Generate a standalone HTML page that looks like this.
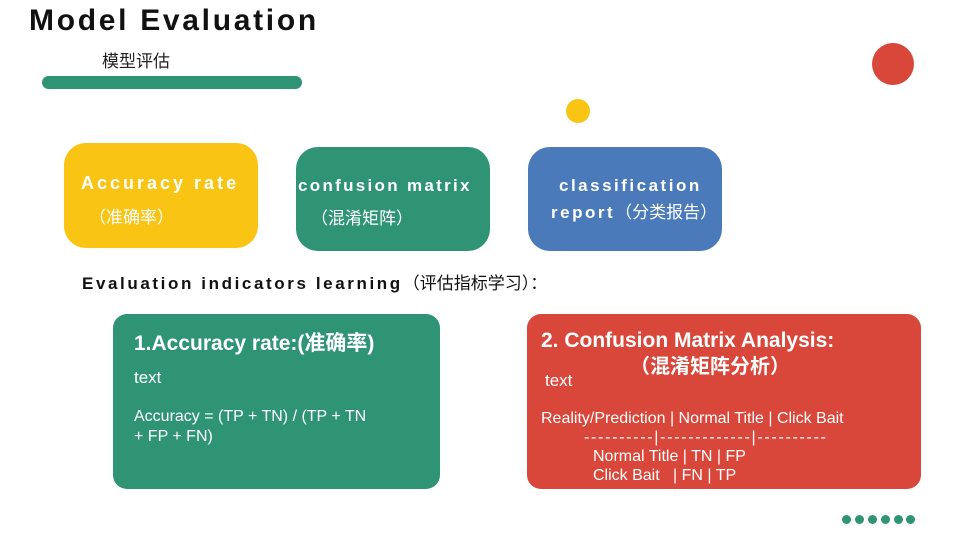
<!DOCTYPE html>
<html><head><meta charset="utf-8"><style>
body{margin:0;width:968px;height:545px;background:#fff;position:relative;overflow:hidden;font-family:"Liberation Sans","Noto Sans CJK SC",sans-serif}
.a{position:absolute;white-space:nowrap}
.box{position:absolute;border-radius:22px}
.w{color:#fff}
.dot{position:absolute;width:9px;height:9px;border-radius:50%;background:#2e9474;top:515px}
</style></head><body>
<div class="a" style="left:29px;top:4px;font-size:30px;font-weight:bold;letter-spacing:2.7px;color:#111">Model Evaluation</div>
<div class="a" style="left:102px;top:47px;font-size:17px;color:#222">模型评估</div>
<div class="a" style="left:42px;top:76px;width:260px;height:13px;border-radius:7px;background:#2e9474"></div>
<div class="a" style="left:872px;top:43px;width:42px;height:42px;border-radius:50%;background:#d9473b"></div>
<div class="a" style="left:566px;top:99px;width:24px;height:24px;border-radius:50%;background:#f9c414"></div>

<div class="box" style="left:64px;top:143px;width:194px;height:105px;background:#f9c414"></div>
<div class="a w" style="left:81px;top:173px;font-size:18px;font-weight:bold;letter-spacing:3px">Accuracy rate</div>
<div class="a w" style="left:89px;top:203px;font-size:17px">（准确率）</div>

<div class="box" style="left:296px;top:147px;width:194px;height:104px;background:#2e9474"></div>
<div class="a w" style="left:298px;top:176px;font-size:17px;font-weight:bold;letter-spacing:2.3px">confusion matrix</div>
<div class="a w" style="left:311px;top:204px;font-size:17px">（混淆矩阵）</div>

<div class="box" style="left:528px;top:147px;width:194px;height:104px;background:#4a7ab9"></div>
<div class="a w" style="left:559px;top:176px;font-size:17px;font-weight:bold;letter-spacing:2.5px">classification</div>
<div class="a w" style="left:551px;top:198px;font-size:17px"><b style="letter-spacing:2.5px">report</b>（分类报告）</div>

<div class="a" style="left:82px;top:269px;font-size:17px;color:#111"><b style="letter-spacing:2.6px">Evaluation indicators learning</b>（评估指标学习）：</div>

<div class="box" style="left:113px;top:314px;width:327px;height:175px;background:#2e9474;border-radius:14px"></div>
<div class="a w" style="left:134px;top:327px;font-size:21px;font-weight:bold">1.Accuracy rate:(准确率)</div>
<div class="a w" style="left:134px;top:368px;font-size:17px">text</div>
<div class="a w" style="left:134px;top:407px;font-size:16px;line-height:20px">Accuracy = (TP + TN) / (TP + TN<br>+ FP + FN)</div>

<div class="box" style="left:527px;top:314px;width:394px;height:175px;background:#d9473b;border-radius:14px"></div>
<div class="a w" style="left:541px;top:329px;font-size:21px;font-weight:bold">2. Confusion Matrix Analysis:</div>
<div class="a w" style="left:630px;top:350px;font-size:20px;font-weight:bold">（混淆矩阵分析）</div>
<div class="a w" style="left:545px;top:371px;font-size:17px">text</div>
<div class="a w" style="left:541px;top:409px;font-size:16px;line-height:19px">Reality/Prediction | Normal Title | Click Bait<br><span style="padding-left:43px;letter-spacing:1.7px">----------|-------------|----------</span><br><span style="padding-left:52px">Normal Title | TN | FP</span><br><span style="padding-left:52px">Click Bait &nbsp;&nbsp;| FN | TP</span></div>

<div class="dot" style="left:842px"></div><div class="dot" style="left:855px"></div><div class="dot" style="left:868px"></div><div class="dot" style="left:881px"></div><div class="dot" style="left:894px"></div><div class="dot" style="left:906px"></div>
</body></html>
